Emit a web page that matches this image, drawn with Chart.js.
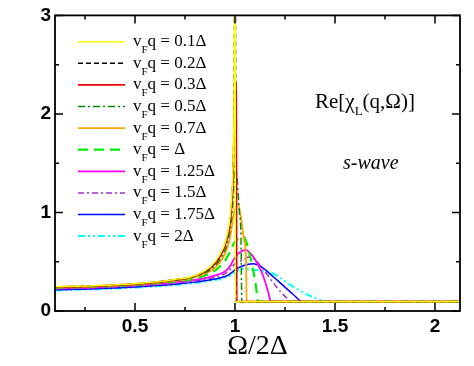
<!DOCTYPE html>
<html>
<head>
<meta charset="utf-8">
<script src="https://cdn.jsdelivr.net/npm/chart.js@4.4.0/dist/chart.umd.min.js"></script>
<style>
  html, body { margin: 0; padding: 0; background: #fff; }
</style>
</head>
<body>
<canvas id="chiChart" width="474" height="366"></canvas>
<script>
// Omega/2Delta values and Re[chi_L], one pair per v_F q
const legendLabels = ['0.1Δ', '0.2Δ', '0.3Δ', '0.5Δ', '0.7Δ', 'Δ', '1.25Δ', '1.5Δ', '1.75Δ', '2Δ'];

const om01 = [0.1, 0.3, 0.5, 0.7, 0.8, 0.9, 0.95, 0.97, 0.98, 0.99, 0.995, 0.998, 0.9995, 1.001, 1.002, 1.5, 2.125];
const re01 = [0.245, 0.255, 0.276, 0.32, 0.36, 0.50, 0.69, 0.87, 1.05, 1.46, 2.05, 3.2, 6.0, 4.0, 0.095, 0.095, 0.095];

const om02 = [0.1, 0.3, 0.5, 0.7, 0.8, 0.9, 0.95, 0.97, 0.98, 0.99, 0.995, 0.999, 1.002, 1.004, 1.5, 2.125];
const re02 = [0.244, 0.254, 0.275, 0.318, 0.357, 0.49, 0.68, 0.85, 1.02, 1.40, 1.95, 3.4, 3.6, 0.095, 0.095, 0.095];

const om03 = [0.1, 0.3, 0.5, 0.7, 0.8, 0.9, 0.95, 0.97, 0.98, 0.99, 0.995, 1.0, 1.006, 1.009, 1.5, 2.125];
const re03 = [0.243, 0.253, 0.274, 0.316, 0.355, 0.48, 0.66, 0.82, 0.98, 1.32, 1.8, 2.35, 2.2, 0.095, 0.095, 0.095];

const om05 = [0.1, 0.3, 0.5, 0.7, 0.8, 0.9, 0.95, 0.97, 0.98, 0.99, 0.995, 1.003, 1.012, 1.022, 1.03, 1.034, 1.5, 2.125];
const re05 = [0.242, 0.252, 0.272, 0.312, 0.35, 0.46, 0.62, 0.76, 0.89, 1.12, 1.32, 1.5, 1.3, 1.0, 0.75, 0.095, 0.095, 0.095];

const om07 = [0.1, 0.3, 0.5, 0.7, 0.8, 0.9, 0.95, 0.97, 0.98, 0.99, 1.0, 1.015, 1.03, 1.045, 1.055, 1.058, 1.5, 2.125];
const re07 = [0.24, 0.25, 0.27, 0.308, 0.344, 0.44, 0.58, 0.70, 0.80, 0.94, 1.04, 1.09, 0.95, 0.72, 0.55, 0.095, 0.095, 0.095];

const om10 = [0.1, 0.3, 0.5, 0.7, 0.8, 0.9, 0.95, 0.97, 0.98, 0.99, 1.0, 1.02, 1.045, 1.07, 1.09, 1.105, 1.115, 1.5, 2.125];
const re10 = [0.236, 0.246, 0.265, 0.30, 0.33, 0.41, 0.51, 0.58, 0.62, 0.67, 0.70, 0.74, 0.75, 0.60, 0.42, 0.25, 0.095, 0.095, 0.095];

const om125 = [0.1, 0.3, 0.5, 0.7, 0.8, 0.9, 0.95, 0.97, 0.98, 0.99, 1.0, 1.02, 1.053, 1.08, 1.11, 1.14, 1.165, 1.18, 1.5, 2.125];
const re125 = [0.23, 0.24, 0.26, 0.29, 0.315, 0.36, 0.40, 0.44, 0.47, 0.51, 0.54, 0.59, 0.62, 0.58, 0.49, 0.36, 0.2, 0.095, 0.095, 0.095];

const om15 = [0.1, 0.3, 0.5, 0.7, 0.8, 0.9, 0.95, 0.97, 0.98, 0.99, 1.0, 1.04, 1.075, 1.11, 1.15, 1.19, 1.23, 1.26, 1.28, 1.5, 2.125];
const re15 = [0.225, 0.235, 0.254, 0.282, 0.305, 0.345, 0.38, 0.41, 0.43, 0.46, 0.48, 0.52, 0.55, 0.50, 0.40, 0.29, 0.19, 0.13, 0.095, 0.095, 0.095];

const om175 = [0.1, 0.3, 0.5, 0.7, 0.8, 0.9, 0.95, 0.97, 0.98, 0.99, 1.0, 1.04, 1.09, 1.13, 1.19, 1.24, 1.29, 1.337, 1.5, 2.125];
const re175 = [0.215, 0.225, 0.244, 0.272, 0.293, 0.325, 0.35, 0.37, 0.385, 0.40, 0.42, 0.46, 0.48, 0.45, 0.35, 0.26, 0.17, 0.095, 0.095, 0.095];

const om20 = [0.1, 0.3, 0.5, 0.7, 0.8, 0.9, 0.95, 0.97, 0.98, 0.99, 1.0, 1.03, 1.08, 1.13, 1.18, 1.23, 1.28, 1.33, 1.38, 1.46, 1.5, 2.125];
const re20 = [0.21, 0.22, 0.238, 0.265, 0.285, 0.315, 0.34, 0.355, 0.365, 0.375, 0.385, 0.43, 0.42, 0.41, 0.39, 0.33, 0.26, 0.2, 0.15, 0.095, 0.095, 0.095];

const xTicks = [0.5, 1, 1.5, 2];
const xMinor = [0.25, 0.75, 1.25, 1.75];
const yTicks = [0, 1, 2, 3];
const yMinor = [0.5, 1.5, 2.5];

const pts = (xs, ys) => xs.map((x, i) => ({ x, y: ys[i] }));

const series = [
  { om: om01, re: re01, color: '#ffff00', dash: [], width: 1.5 },
  { om: om02, re: re02, color: '#000000', dash: [5, 3], width: 1.5 },
  { om: om03, re: re03, color: '#ff0000', dash: [], width: 1.8 },
  { om: om05, re: re05, color: '#008c00', dash: [7, 3, 2, 3], width: 1.5 },
  { om: om07, re: re07, color: '#ffa500', dash: [], width: 1.8 },
  { om: om10, re: re10, color: '#00ee00', dash: [10, 6], width: 2.2 },
  { om: om125, re: re125, color: '#ff00ff', dash: [], width: 1.8 },
  { om: om15, re: re15, color: '#9932cc', dash: [6, 3, 2, 3], width: 1.5 },
  { om: om175, re: re175, color: '#0000ff', dash: [], width: 1.5 },
  { om: om20, re: re20, color: '#00ffff', dash: [7, 3, 2, 3, 2, 3], width: 2 }
];

const frame = {
  id: 'frame',
  afterDraw(chart) {
    const { ctx, chartArea: a, scales: { x, y } } = chart;
    ctx.save();
    ctx.strokeStyle = '#000';
    ctx.lineWidth = 1.8;
    ctx.strokeRect(a.left, a.top, a.right - a.left, a.bottom - a.top);
    ctx.lineWidth = 1.5;
    const tick = (v, len, horiz) => {
      ctx.beginPath();
      if (horiz) {
        const px = x.getPixelForValue(v);
        ctx.moveTo(px, a.bottom); ctx.lineTo(px, a.bottom - len);
        ctx.moveTo(px, a.top); ctx.lineTo(px, a.top + len);
      } else {
        const py = y.getPixelForValue(v);
        ctx.moveTo(a.left, py); ctx.lineTo(a.left + len, py);
        ctx.moveTo(a.right, py); ctx.lineTo(a.right - len, py);
      }
      ctx.stroke();
    };
    xTicks.forEach(v => tick(v, 8, true));
    xMinor.forEach(v => tick(v, 4, true));
    yTicks.forEach(v => tick(v, 8, false));
    yMinor.forEach(v => tick(v, 4, false));

    // legend with subscripted v_F
    chart.data.datasets.forEach((ds, i) => {
      const ry = 41.7 + 21.6 * i;
      ctx.beginPath();
      ctx.strokeStyle = ds.borderColor;
      ctx.lineWidth = ds.borderWidth;
      ctx.setLineDash(ds.borderDash);
      ctx.moveTo(78, ry); ctx.lineTo(125, ry);
      ctx.stroke();
      ctx.setLineDash([]);
      ctx.fillStyle = '#000';
      ctx.textBaseline = 'alphabetic';
      ctx.textAlign = 'left';
      let tx = 133;
      ctx.font = '17px "Liberation Serif"';
      ctx.fillText('v', tx, ry + 4.5);
      tx += ctx.measureText('v').width;
      ctx.font = '11px "Liberation Serif"';
      ctx.fillText('F', tx, ry + 11.5);
      tx += ctx.measureText('F').width;
      ctx.font = '17px "Liberation Serif"';
      ctx.fillText('q = ' + legendLabels[i], tx, ry + 4.5);
    });

    // annotations
    ctx.font = '21px "Liberation Serif"';
    let tx = 315;
    ctx.fillText('Re[χ', tx, 108);
    tx += ctx.measureText('Re[χ').width;
    ctx.font = '13px "Liberation Serif"';
    ctx.fillText('L', tx, 115);
    tx += ctx.measureText('L').width;
    ctx.font = '21px "Liberation Serif"';
    ctx.fillText('(q,Ω)]', tx, 108);

    ctx.font = 'italic 20px "Liberation Serif"';
    ctx.fillText('s-wave', 343, 169);

    ctx.font = '28px "Liberation Serif"';
    ctx.textAlign = 'center';
    ctx.fillText('Ω/2Δ', (a.left + a.right) / 2, 354);
    ctx.restore();
  }
};

new Chart(document.getElementById('chiChart').getContext('2d'), {
  type: 'line',
  data: {
    datasets: series.map((s, i) => ({
      label: 'vFq = ' + legendLabels[i],
      data: pts(s.om, s.re),
      borderColor: s.color,
      borderDash: s.dash,
      borderWidth: s.width,
      pointRadius: 0,
      fill: false,
      cubicInterpolationMode: 'monotone'
    }))
  },
  options: {
    responsive: false,
    animation: false,
    devicePixelRatio: 1,
    layout: { padding: { top: 15, right: 14, left: 0, bottom: 0 } },
    plugins: { legend: { display: false }, tooltip: { enabled: false } },
    scales: {
      x: {
        type: 'linear', min: 0.1, max: 2.125,
        afterFit: s => { s.height = 55; },
        afterBuildTicks: s => { s.ticks = xTicks.map(v => ({ value: v })); },
        grid: { display: false, drawTicks: false },
        border: { display: false },
        ticks: { padding: 4, color: '#000', font: { family: '"Liberation Sans"', size: 19, weight: 'bold' }, callback: v => String(v), maxRotation: 0 }
      },
      y: {
        type: 'linear', min: 0, max: 3,
        afterFit: s => { s.width = 55; },
        afterBuildTicks: s => { s.ticks = yTicks.map(v => ({ value: v })); },
        grid: { display: false, drawTicks: false },
        border: { display: false },
        ticks: { padding: 4, color: '#000', font: { family: '"Liberation Sans"', size: 19, weight: 'bold' }, callback: v => String(v) }
      }
    }
  },
  plugins: [frame]
});
</script>
</body>
</html>
